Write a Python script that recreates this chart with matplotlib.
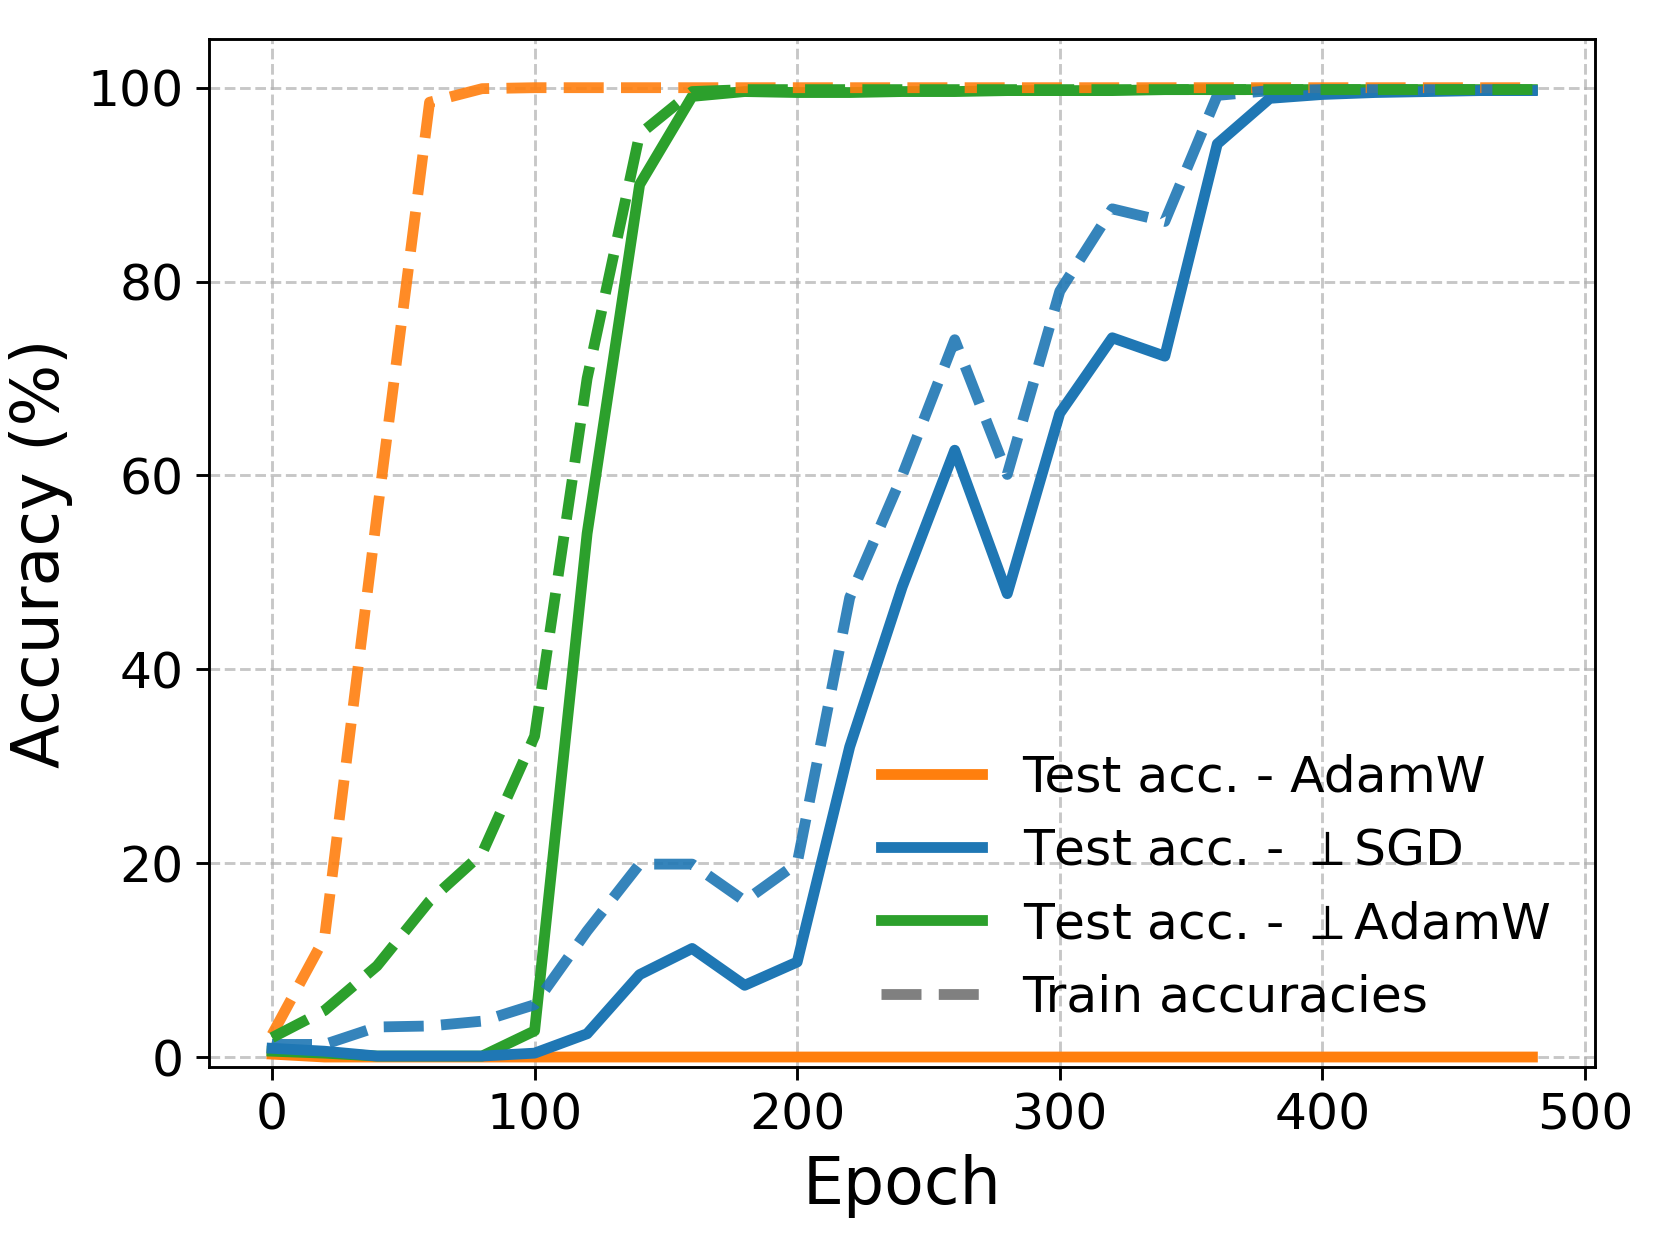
import matplotlib
matplotlib.use("Agg")
import matplotlib.pyplot as plt
from matplotlib.lines import Line2D

epochs = list(range(0, 481, 20))

test_adamw = [0.3, 0, 0, 0, 0, 0, 0, 0, 0, 0, 0, 0, 0, 0, 0, 0, 0, 0, 0, 0, 0, 0, 0, 0, 0]
train_adamw = [2.3, 12.3, 56.0, 98.5, 99.9, 100, 100, 100, 100, 100, 100, 100, 100,
               100, 100, 100, 100, 100, 100, 100, 100, 100, 100, 100, 100]

test_sgd = [0.9, 0.6, 0.1, 0.1, 0.1, 0.4, 2.4, 8.5, 11.2, 7.4, 9.8, 32.0, 48.5,
            62.6, 47.8, 66.4, 74.2, 72.3, 94.2, 98.9, 99.3, 99.5, 99.6, 99.7, 99.7]
train_sgd = [1.3, 1.3, 3.1, 3.2, 3.7, 5.4, 13.0, 19.9, 19.9, 16.1, 20.0, 47.4, 60.0,
             74.0, 60.1, 79.0, 87.5, 86.2, 99.2, 99.7, 99.8, 99.8, 99.8, 99.8, 99.8]

test_padamw = [0.6, 0.4, 0.1, 0.1, 0.1, 2.7, 54.0, 90.0, 99.1, 99.6, 99.5, 99.5, 99.6,
               99.6, 99.7, 99.7, 99.7, 99.8, 99.8, 99.8, 99.8, 99.8, 99.8, 99.8, 99.8]
train_padamw = [2.0, 4.8, 9.4, 16.1, 21.0, 33.1, 70.0, 95.2, 99.6, 99.8, 99.8, 99.8, 99.8,
                99.8, 99.8, 99.8, 99.8, 99.8, 99.8, 99.8, 99.8, 99.8, 99.8, 99.8, 99.8]

labels = ['Test acc. - AdamW', r'Test acc. - $\perp$SGD', r'Test acc. - $\perp$AdamW', 'Train accuracies']

C_OR = '#ff7f0e'
C_BL = '#1f77b4'
C_GR = '#2ca02c'

fig = plt.figure(figsize=(6.4, 4.8), dpi=259.375)
ax = fig.add_axes([0.1259, 0.1432, 0.9611 - 0.1259, 0.9685 - 0.1432])

lw = 3
ax.plot(epochs, test_adamw, color=C_OR, lw=lw)
ax.plot(epochs, test_padamw, color=C_GR, lw=lw)
ax.plot(epochs, test_sgd, color=C_BL, lw=lw)
ax.plot(epochs, train_adamw, color=C_OR, lw=lw, ls='--', alpha=0.9)
ax.plot(epochs, train_sgd, color=C_BL, lw=lw, ls='--', alpha=0.9)
ax.plot(epochs, train_padamw, color=C_GR, lw=lw, ls='--')

ax.set_xlim(-24, 504)
ax.set_ylim(-1, 105)
ax.set_xticks([0, 100, 200, 300, 400, 500])
ax.set_yticks([0, 20, 40, 60, 80, 100])
ax.tick_params(labelsize=14)
ax.grid(True, ls='--', lw=0.8, alpha=0.7)
ax.set_axisbelow(True)
ax.set_xlabel('Epoch', fontsize=18)
ax.set_ylabel('Accuracy (%)', fontsize=18)

handles = [Line2D([], [], color=C_OR, lw=lw),
           Line2D([], [], color=C_BL, lw=lw),
           Line2D([], [], color=C_GR, lw=lw),
           Line2D([], [], color='gray', lw=lw, ls='--')]
ax.legend(handles, labels, loc='lower right', frameon=False, fontsize=14)

fig.savefig('out.png', dpi=259.375)
